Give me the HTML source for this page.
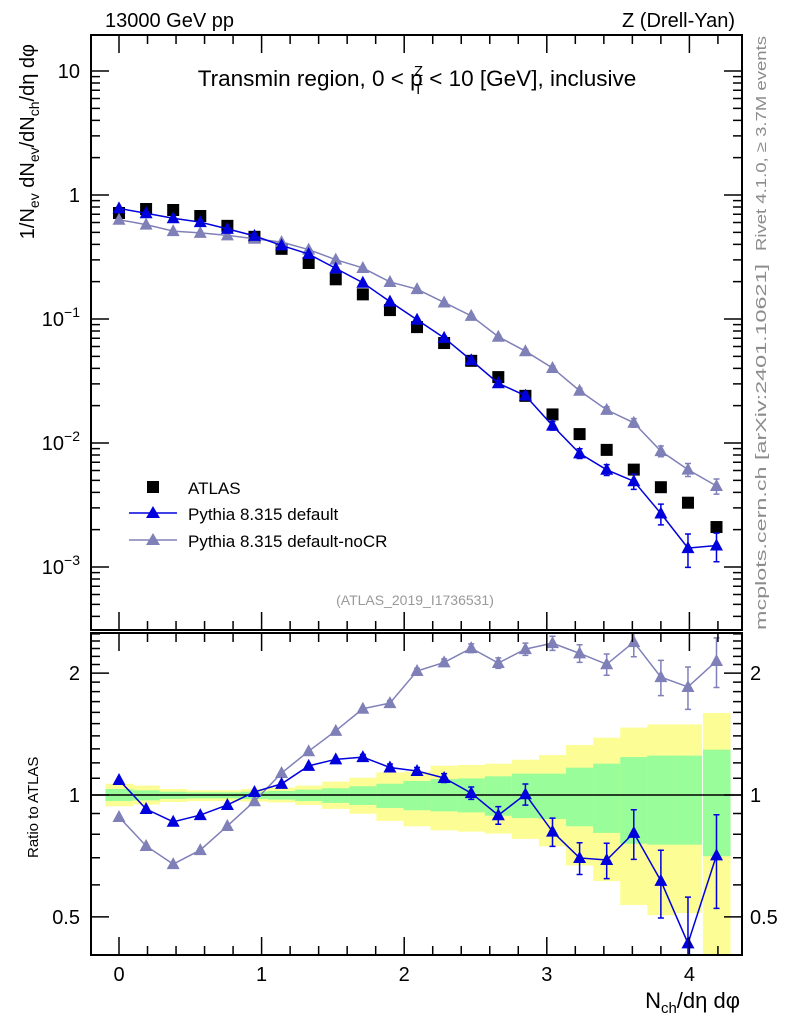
<!DOCTYPE html>
<html><head><meta charset="utf-8">
<style>
html,body{margin:0;padding:0;background:#fff;}
svg{display:block;font-family:"Liberation Sans",Arial,sans-serif;}
</style></head>
<body>
<svg id="chart" width="786" height="1024" viewBox="0 0 786 1024" xmlns="http://www.w3.org/2000/svg">
  <g id="bands"></g>
  <g id="marks"></g>
  <g id="axes"></g>

  <text x="105" y="27" font-size="20">13000 GeV pp</text>
  <text x="735" y="27" font-size="20" text-anchor="end">Z (Drell-Yan)</text>
  <text x="417" y="86" font-size="22.5" text-anchor="middle">Transmin region, 0 &lt; p<tspan font-size="15" dx="-9" dy="8">T</tspan><tspan font-size="15" dx="-9" dy="-18">Z</tspan><tspan dy="10"> &lt; 10 [GeV], inclusive</tspan></text>
  <text transform="translate(34,44) rotate(-90)" font-size="20" text-anchor="end">1/N<tspan font-size="14" dy="5">ev</tspan><tspan dy="-5"> dN</tspan><tspan font-size="14" dy="5">ev</tspan><tspan dy="-5">/dN</tspan><tspan font-size="14" dy="5">ch</tspan><tspan dy="-5">/dη dφ</tspan></text>
  <text transform="translate(38,858) rotate(-90)" font-size="15">Ratio to ATLAS</text>
  <text x="740" y="1008" font-size="22" text-anchor="end">N<tspan font-size="15" dy="5">ch</tspan><tspan dy="-5">/dη dφ</tspan></text>
  <text transform="translate(766,251) rotate(-90)" font-size="15" fill="#8c8c8c" textLength="215" lengthAdjust="spacingAndGlyphs">Rivet 4.1.0, ≥ 3.7M events</text>
  <text transform="translate(766,630) rotate(-90)" font-size="15" fill="#8c8c8c" textLength="366" lengthAdjust="spacingAndGlyphs">mcplots.cern.ch [arXiv:2401.10621]</text>
  <text x="415" y="605" font-size="14" fill="#999" text-anchor="middle">(ATLAS_2019_I1736531)</text>

  <g>
    <rect x="147" y="481" width="12" height="12" fill="#000"/>
    <text x="188" y="494" font-size="17">ATLAS</text>
    <line x1="129" y1="513" x2="177" y2="513" stroke="#0000dd" stroke-width="1.5"/>
    <polygon points="153,506 160,518 146,518" fill="#0000dd"/>
    <text x="188" y="520" font-size="17">Pythia 8.315 default</text>
    <line x1="129" y1="540" x2="177" y2="540" stroke="#8080b8" stroke-width="1.5"/>
    <polygon points="153,533 160,545 146,545" fill="#8080b8"/>
    <text x="188" y="547" font-size="17">Pythia 8.315 default-noCR</text>
  </g>
</svg>
<script>
const xCenters = [0,0.19,0.38,0.57,0.76,0.95,1.14,1.33,1.52,1.71,1.9,2.09,2.28,2.47,2.66,2.85,3.04,3.23,3.42,3.61,3.8,3.99,4.19];
const atlasValues = [0.716,0.771,0.757,0.677,0.564,0.460,0.368,0.283,0.209,0.158,0.118,0.086,0.064,0.046,0.034,0.024,0.0170,0.0118,0.0088,0.0061,0.0044,0.0033,0.0021];
const defaultValues = [0.780,0.712,0.650,0.604,0.533,0.468,0.392,0.334,0.256,0.196,0.138,0.0986,0.0705,0.0465,0.0303,0.0241,0.0138,0.00825,0.00608,0.00492,0.0027,0.00142,0.00149];
const defaultRelErr = [0,0,0,0,0,0,0.005,0.01,0.01,0.015,0.02,0.02,0.025,0.035,0.05,0.06,0.08,0.09,0.1,0.14,0.19,0.3,0.26];
const nocrValues = [0.632,0.577,0.511,0.495,0.473,0.444,0.417,0.363,0.301,0.258,0.199,0.174,0.136,0.106,0.072,0.055,0.0403,0.0264,0.0185,0.01455,0.0086,0.0061,0.0045];
const nocrRelErr = [0,0,0,0,0,0,0.005,0.005,0.01,0.01,0.015,0.015,0.02,0.025,0.03,0.035,0.04,0.05,0.06,0.08,0.1,0.12,0.14];
const yellowHi = [1.066,1.055,1.035,1.027,1.027,1.035,1.043,1.055,1.079,1.103,1.137,1.142,1.181,1.186,1.195,1.222,1.255,1.329,1.385,1.467,1.494,1.494,1.594];
const yellowLo = [0.938,0.947,0.961,0.966,0.966,0.963,0.959,0.945,0.924,0.899,0.863,0.837,0.818,0.812,0.803,0.779,0.747,0.670,0.613,0.535,0.505,0.511,0.38];
const greenHi = [1.035,1.027,1.019,1.015,1.015,1.019,1.023,1.031,1.039,1.051,1.066,1.083,1.095,1.099,1.112,1.129,1.129,1.168,1.195,1.241,1.251,1.251,1.294];
const greenLo = [0.966,0.970,0.978,0.981,0.981,0.978,0.974,0.966,0.956,0.945,0.929,0.917,0.911,0.906,0.889,0.877,0.872,0.837,0.806,0.758,0.754,0.754,0.706];
const xTickLabels = ["0","1","2","3","4"];
const mainYTickLabels = ["10\u207B\u00B3","10\u207B\u00B2","10\u207B\u00B9","1","10"];
const ratioTickLabels = ["0.5","1","2"];

const NS = "http://www.w3.org/2000/svg";
const L = 91, R = 742, MT = 35, MB = 630, RT = 633, RB = 955;
const BINW = 0.19;
function X(v){ return 119 + 142.6*v; }
function YM(v){ return 195 - 124*Math.log10(v); }
function YR(r){ return 795 - 405*Math.log10(r); }
function mk(tag, attrs, parent){
  const e = document.createElementNS(NS, tag);
  for (const k in attrs) e.setAttribute(k, attrs[k]);
  parent.appendChild(e); return e;
}
const bands = document.getElementById('bands');
const marks = document.getElementById('marks');
const axes = document.getElementById('axes');
function clampR(y){ return Math.max(RT, Math.min(RB, y)); }

xCenters.forEach((c,i)=>{
  const x0 = X(c-BINW/2), x1 = X(c+BINW/2);
  const y1 = clampR(YR(yellowHi[i])), y2 = clampR(YR(yellowLo[i]));
  const r1 = mk('rect',{x:x0,y:y1,width:x1-x0+0.5,height:y2-y1,fill:'#fdfd96'},bands);
  
  
  const g1 = clampR(YR(greenHi[i])), g2 = clampR(YR(greenLo[i]));
  const r2 = mk('rect',{x:x0,y:g1,width:x1-x0+0.5,height:g2-g1,fill:'#99fd99'},bands);
  
  
});
const unity = mk('line',{x1:L,x2:R,y1:YR(1),y2:YR(1),stroke:'#000','stroke-width':1.5},bands);



function tri(x,y,color,parent,name){
  const p = mk('polygon',{points:`${x},${y-7} ${x+6.5},${y+5} ${x-6.5},${y+5}`,fill:color},parent);
  
  
}
function series(vals, errs, color, name){
  const ptsM = xCenters.map((c,i)=>`${X(c)},${YM(vals[i])}`).join(' ');
  const lm = mk('polyline',{points:ptsM,fill:'none',stroke:color,'stroke-width':1.5},marks);
  
  
  const ratios = vals.map((v,i)=>v/atlasValues[i]);
  const ptsR = xCenters.map((c,i)=>`${X(c)},${clampR(YR(ratios[i]))}`).join(' ');
  const lr = mk('polyline',{points:ptsR,fill:'none',stroke:color,'stroke-width':1.5},marks);
  
  
  xCenters.forEach((c,i)=>{
    const x = X(c);
    if (errs[i] > 0.012){
      const e = errs[i];
      const a = YM(vals[i]*(1+e)), b = YM(vals[i]*(1-e));
      const eb = mk('path',{d:`M${x},${a}V${b}M${x-3},${a}H${x+3}M${x-3},${b}H${x+3}`,stroke:color,'stroke-width':1.5,fill:'none'},marks);
      
      
      const ra = clampR(YR(ratios[i]*(1+e))), rb = clampR(YR(ratios[i]*(1-e)));
      const er = mk('path',{d:`M${x},${ra}V${rb}M${x-3},${ra}H${x+3}M${x-3},${rb}H${x+3}`,stroke:color,'stroke-width':1.5,fill:'none'},marks);
      
      
    }
    tri(x,YM(vals[i]),color,marks,name+'-point');
    const yr = YR(ratios[i]);
    if (yr >= RT && yr <= RB+6) tri(x,Math.min(yr,RB-5),color,marks,name+'-ratio-point');
  });
}
xCenters.forEach((c,i)=>{
  const s = mk('rect',{x:X(c)-6,y:YM(atlasValues[i])-6,width:12,height:12,fill:'#000'},marks);
  
  
});
series(nocrValues, nocrRelErr, '#8080b8', 'pythia-default-nocr');
series(defaultValues, defaultRelErr, '#0000dd', 'pythia-default');

[[MT,MB],[RT,RB]].forEach(([t,b],k)=>{
  const f = mk('rect',{x:L,y:t,width:R-L,height:b-t,fill:'none',stroke:'#000','stroke-width':2},axes);
  
  
});
let d = '';
for (let v=-0.2; v<=4.35; v+=0.2){
  const vv = Math.round(v*10)/10;
  const x = X(vv); if (x<L || x>R) continue;
  const major = Math.abs(vv-Math.round(vv))<1e-6;
  const len = major?18:9;
  d += `M${x},${MT}v${len}M${x},${MB}v${-len}M${x},${RT}v${len}M${x},${RB}v${-len}`;
}
for (let e=-4; e<=1; e++){
  for (let m=1; m<=9; m++){
    const v = m*Math.pow(10,e); const y = YM(v);
    if (y<MT || y>MB) continue;
    const len = m===1?18:9;
    d += `M${L},${y}h${len}M${R},${y}h${-len}`;
  }
}
[0.4,0.5,0.6,0.7,0.8,0.9,1,1.1,1.2,1.3,1.4,1.5,1.6,1.7,1.8,1.9,2,2.1,2.2,2.3,2.4,2.5].forEach(v=>{
  const y = YR(v); if (y<RT || y>RB) return;
  const len = (v===0.5||v===1||v===2)?18:9;
  d += `M${L},${y}h${len}M${R},${y}h${-len}`;
});
const tk = mk('path',{d:d,stroke:'#000','stroke-width':1.5,fill:'none'},axes);



xTickLabels.forEach((s,i)=>{
  const t = mk('text',{x:X(i),y:981,'font-size':20,'text-anchor':'middle'},axes);
  t.textContent = s;
  
  
});
mainYTickLabels.forEach((s,i)=>{
  const v = Math.pow(10,i-3);
  const t = mk('text',{x:80,y:YM(v)+7,'font-size':20,'text-anchor':'end'},axes);
  if (i<3){
    t.textContent = '10';
    const sp = mk('tspan',{'font-size':14,dy:-9},t);
    sp.textContent = '\u2212' + (3-i);
  } else t.textContent = s;
  
  
});
ratioTickLabels.forEach(s=>{
  const v = parseFloat(s);
  const t1 = mk('text',{x:80,y:YR(v)+7,'font-size':20,'text-anchor':'end'},axes);
  t1.textContent = s;
  
  
  const t2 = mk('text',{x:750,y:YR(v)+7,'font-size':20},axes);
  t2.textContent = s;
  
  
});
</script>
</body></html>
